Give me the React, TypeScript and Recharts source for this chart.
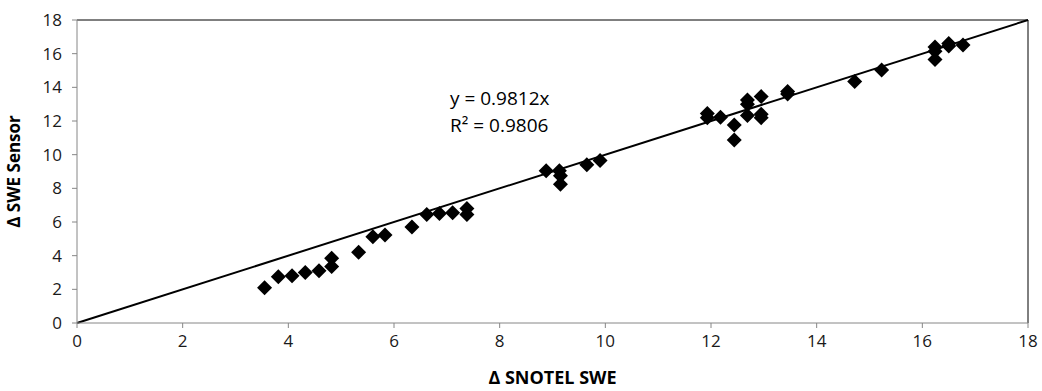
import { ScatterChart, Scatter, XAxis, YAxis, ReferenceLine } from "recharts";

// ΔSWE pairs (SNOTEL pillow vs sensor)
const snotelSwe = [
  3.55, 3.81, 4.07, 4.32, 4.58, 4.82, 4.82, 5.33, 5.6, 5.83, 6.34, 6.62, 6.86,
  7.11, 7.38, 7.38, 8.88, 9.13, 9.15, 9.15, 9.65, 9.9, 11.93, 11.93, 12.18,
  12.44, 12.44, 12.69, 12.69, 12.69, 12.95, 12.95, 12.95, 13.45, 13.45, 14.72,
  15.23, 16.24, 16.24, 16.24, 16.5, 16.5, 16.77,
];
const sensorSwe = [
  2.1, 2.75, 2.8, 3.0, 3.1, 3.35, 3.85, 4.2, 5.13, 5.23, 5.7, 6.45, 6.5, 6.55,
  6.8, 6.45, 9.05, 9.05, 8.75, 8.25, 9.4, 9.65, 12.45, 12.2, 12.22, 11.76,
  10.87, 13.25, 13.0, 12.32, 13.45, 12.4, 12.2, 13.75, 13.6, 14.34, 15.03,
  16.4, 16.15, 15.65, 16.6, 16.45, 16.52,
];
const axisTicks = [0, 2, 4, 6, 8, 10, 12, 14, 16, 18];
const oneToOneX = [0, 18];
const oneToOneY = [0, 18];
const fitEquation = "y = 0.9812x";
const fitR2 = "R² = 0.9806";

const points = snotelSwe.map((x, i) => ({ x, y: sensorSwe[i] }));

const FONT = "'Open Sans', 'DejaVu Sans', sans-serif";

function Diamond(props: any) {
  const { cx, cy } = props;
  const r = 7.5;
  return (
    <polygon
      points={`${cx},${cy - r} ${cx + r},${cy} ${cx},${cy + r} ${cx - r},${cy}`}
      fill="#000"
    />
  );
}

export default function App() {
  const tick = { fill: "#1a1a1a", fontSize: 17, fontFamily: FONT };
  return (
    <div
      style={{
        position: "absolute",
        left: 0,
        top: 0,
        width: 1042,
        height: 391,
        background: "#fff",
      }}
    >
      <ScatterChart
        width={1042}
        height={391}
        margin={{ top: 20, right: 14, bottom: 0, left: 0 }}
      >
        <XAxis
          type="number"
          dataKey="x"
          domain={[0, 18]}
          ticks={axisTicks}
          height={68}
          tick={tick}
          tickSize={5}
          tickMargin={7}
          stroke="#868686"
          label={{
            value: "Δ SNOTEL SWE",
            position: "insideBottom",
            offset: 7,
            style: { fill: "#000", fontSize: 18, fontWeight: 700, fontFamily: FONT },
          }}
        />
        <YAxis
          type="number"
          dataKey="y"
          domain={[0, 18]}
          ticks={axisTicks}
          width={77}
          tick={tick}
          tickSize={5}
          tickMargin={10}
          stroke="#868686"
          label={{
            value: "Δ SWE Sensor",
            angle: -90,
            position: "insideLeft",
            offset: 14,
            style: {
              textAnchor: "middle",
              fill: "#000",
              fontSize: 17,
              fontWeight: 700,
              fontFamily: FONT,
            },
          }}
        />
        <ReferenceLine y={18} stroke="#000" strokeWidth={1} />
        <ReferenceLine x={18} stroke="#000" strokeWidth={1} />
        <ReferenceLine
          segment={[
            { x: oneToOneX[0], y: oneToOneY[0] },
            { x: oneToOneX[1], y: oneToOneY[1] },
          ]}
          stroke="#000"
          strokeWidth={2}
        />
        <Scatter data={points} shape={Diamond} isAnimationActive={false} />
      </ScatterChart>
      <div
        style={{
          position: "absolute",
          left: 450,
          top: 85,
          fontFamily: FONT,
          fontSize: 19,
          lineHeight: "27px",
          color: "#000",
          whiteSpace: "pre",
        }}
      >
        <div>{fitEquation}</div>
        <div>{fitR2}</div>
      </div>
    </div>
  );
}
